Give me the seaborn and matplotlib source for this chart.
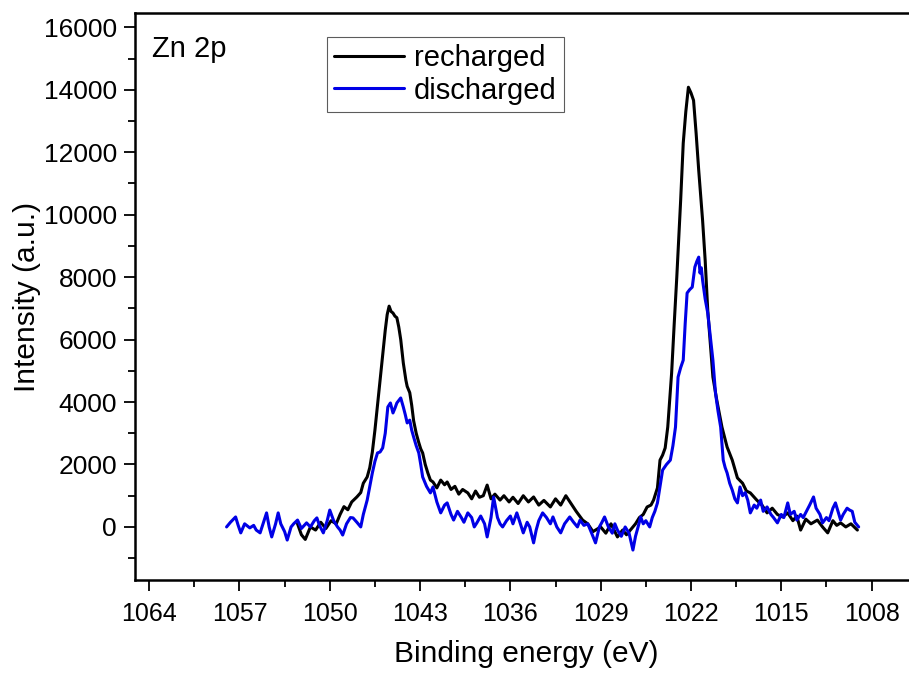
import numpy as np
import pandas as pd
import matplotlib
matplotlib.use("Agg")
import matplotlib.pyplot as plt
import seaborn as sns

# Zn 2p XPS spectra
recharged_be = [
    1052.5, 1052.2, 1051.9, 1051.5, 1051.1, 1050.7, 1050.3, 1049.9, 1049.5, 1049.2,
    1048.9, 1048.6, 1048.3, 1047.9, 1047.6, 1047.4, 1047.1, 1046.9, 1046.7, 1046.5,
    1046.3, 1046.1, 1045.9, 1045.7, 1045.55, 1045.4, 1045.25, 1045.1, 1044.95, 1044.8,
    1044.65, 1044.5, 1044.3, 1044.1, 1044.0, 1043.8, 1043.65, 1043.5, 1043.3, 1043.1,
    1042.95, 1042.8, 1042.6, 1042.4, 1042.2, 1042.0, 1041.7, 1041.4, 1041.1, 1040.9,
    1040.6, 1040.3, 1040.0, 1039.7, 1039.3, 1039.0, 1038.7, 1038.4, 1038.1, 1037.8,
    1037.5, 1037.2, 1036.8, 1036.5, 1036.1, 1035.8, 1035.4, 1035.0, 1034.6, 1034.2,
    1033.8, 1033.4, 1032.9, 1032.5, 1032.1, 1031.7, 1031.3, 1030.9, 1030.4, 1030.0,
    1029.6, 1029.0, 1028.6, 1028.2, 1027.7, 1027.3, 1027.0, 1026.7, 1026.3, 1026.0,
    1025.7, 1025.4, 1025.1, 1024.9, 1024.6, 1024.4, 1024.2, 1024.0, 1023.8, 1023.5,
    1023.3, 1023.1, 1022.8, 1022.6, 1022.4, 1022.2, 1022.0, 1021.8, 1021.6, 1021.4,
    1021.1, 1020.9, 1020.7, 1020.4, 1020.3, 1020.0, 1019.6, 1019.2, 1018.8, 1018.4,
    1018.0, 1017.7, 1017.4, 1016.9, 1016.5, 1016.1, 1015.7, 1015.3, 1014.9, 1014.5,
    1014.1, 1013.8, 1013.5, 1013.1, 1012.7, 1012.2, 1011.8, 1011.4, 1011.0, 1010.7,
    1010.4, 1010.0, 1009.6, 1009.1,
]
recharged_int = [
    100, -250, -400, 0, -100, 150, -50, 200, 100, 400,
    650, 550, 800, 960, 1100, 1400, 1600, 1900, 2400, 3100,
    3900, 4700, 5500, 6300, 6800, 7070, 6900, 6850, 6750, 6700,
    6400, 6000, 5250, 4700, 4500, 4300, 3900, 3400, 3000, 2700,
    2500, 2370, 2000, 1730, 1500, 1440, 1250, 1500, 1350, 1440,
    1200, 1300, 1050, 1200, 1090, 900, 1150, 950, 1000, 1340,
    900, 1050, 860, 1000, 800, 950, 750, 1000, 800, 960,
    700, 850, 640, 900, 700, 1000, 750, 500, 220, 100,
    -150, 0, -200, 100, -320, -100, -250, -100, 100, 300,
    400, 640, 700, 860, 1250, 2140, 2300, 2530, 3200, 4930,
    6500, 8000, 10460, 12290, 13300, 14080, 13900, 13660, 12600, 11420,
    9820, 8540, 6940, 5340, 4800, 4060, 3200, 2560, 2140, 1570,
    1400, 1150, 1090, 860, 700, 450, 600, 400, 320, 450,
    200, 350, -100, 250, 100, 220, 0, -190, 200, 50,
    130, 0, 100, -100,
]

discharged_be = [
    1058.0, 1057.7, 1057.3, 1057.1, 1056.9, 1056.6, 1056.2, 1055.9, 1055.7, 1055.4,
    1055.1, 1054.9, 1054.7, 1054.5, 1054.2, 1054.0, 1053.8, 1053.5, 1053.3, 1053.0,
    1052.8, 1052.5, 1052.2, 1051.8, 1051.5, 1051.2, 1051.0, 1050.8, 1050.5, 1050.2,
    1050.0, 1049.7, 1049.4, 1049.2, 1049.0, 1048.7, 1048.4, 1048.2, 1047.9, 1047.6,
    1047.4, 1047.1, 1046.9, 1046.7, 1046.5, 1046.3, 1046.1, 1045.9, 1045.7, 1045.5,
    1045.3, 1045.1, 1044.95, 1044.8, 1044.65, 1044.5, 1044.3, 1044.15, 1044.0, 1043.8,
    1043.65, 1043.5, 1043.3, 1043.1, 1042.95, 1042.8, 1042.5, 1042.2, 1042.0, 1041.7,
    1041.4, 1041.1, 1040.9, 1040.6, 1040.4, 1040.1, 1039.8, 1039.6, 1039.3, 1039.0,
    1038.8, 1038.6, 1038.3, 1038.0, 1037.8, 1037.5, 1037.3, 1037.0, 1036.8, 1036.6,
    1036.3, 1036.0, 1035.8, 1035.5, 1035.3, 1035.0, 1034.7, 1034.5, 1034.2, 1034.0,
    1033.8, 1033.5, 1033.2, 1032.9, 1032.7, 1032.4, 1032.1, 1031.8, 1031.4, 1031.1,
    1030.8, 1030.6, 1030.3, 1030.0, 1029.7, 1029.4, 1029.1, 1028.9, 1028.7, 1028.4,
    1028.1, 1027.9, 1027.7, 1027.4, 1027.1, 1026.8, 1026.5, 1026.3, 1026.1, 1025.9,
    1025.7, 1025.5, 1025.2, 1025.0, 1024.8, 1024.6, 1024.4, 1024.2, 1023.9, 1023.6,
    1023.4, 1023.2, 1023.0, 1022.8, 1022.6, 1022.45, 1022.3, 1022.1, 1021.9, 1021.8,
    1021.7, 1021.55, 1021.4, 1021.3, 1021.2, 1021.1, 1020.9, 1020.7, 1020.5, 1020.3,
    1020.1, 1019.9, 1019.7, 1019.5, 1019.35, 1019.2, 1019.0, 1018.8, 1018.6, 1018.4,
    1018.2, 1018.0, 1017.8, 1017.6, 1017.4, 1017.1, 1016.9, 1016.6, 1016.4, 1016.1,
    1015.8, 1015.6, 1015.3, 1015.0, 1014.8, 1014.5, 1014.3, 1014.0, 1013.8, 1013.5,
    1013.3, 1013.0, 1012.8, 1012.5, 1012.3, 1012.0, 1011.8, 1011.5, 1011.3, 1011.0,
    1010.8, 1010.6, 1010.4, 1010.2, 1009.9, 1009.7, 1009.5, 1009.3, 1009.0,
]
discharged_int = [
    0, 150, 320, 50, -190, 100, -30, 50, -100, -190,
    200, 450, 0, -320, 100, 450, 100, -150, -420, 0,
    100, 220, -50, 130, 0, 200, 290, 50, -190, 200,
    540, 200, 0, -100, -260, 100, 300, 290, 150, 0,
    400, 860, 1300, 1730, 2100, 2370, 2400, 2530, 3000, 3840,
    3970, 3650, 3800, 3970, 4050, 4130, 3840, 3600, 3330, 3420,
    3100, 2880, 2600, 2370, 2000, 1600, 1300, 1090, 1280, 800,
    450, 700, 770, 400, 220, 500, 300, 150, 450, 300,
    0, 130, 350, 100, -320, 300, 960, 300, 100, 0,
    200, 350, 100, 450, 200, -190, 150, 0, -510, -100,
    200, 450, 300, 100, 320, 0, -190, 100, 320, 150,
    0, 220, 50, 100, -200, -510, 0, 150, 320, 0,
    -200, 100, -100, -300, 0, -200, -740, -300, 0, 320,
    100, 200, 0, 300, 500, 770, 1300, 1820, 2000, 2140,
    2600, 3200, 4800, 5100, 5340, 6500, 7490, 7600, 7680, 8000,
    8320, 8500, 8640, 8130, 8300, 7900, 7300, 6850, 6080, 5340,
    4290, 3700, 3200, 2140, 1900, 1730, 1400, 1180, 900, 770,
    1280, 1000, 1100, 860, 450, 700, 600, 860, 500, 640,
    400, 300, 130, 400, 300, 770, 400, 500, 220, 400,
    300, 540, 700, 960, 600, 400, 130, 300, 200, 600,
    770, 500, 220, 400, 600, 540, 500, 150, 0,
]

x_ticks = [1064, 1057, 1050, 1043, 1036, 1029, 1022, 1015, 1008]

sns.set_style("ticks")
plt.rcParams["font.family"] = ["Liberation Sans", "DejaVu Sans"]
plt.rcParams["text.color"] = "black"
plt.rcParams["axes.labelcolor"] = "black"
plt.rcParams["xtick.color"] = "black"
plt.rcParams["ytick.color"] = "black"

fig = plt.figure(figsize=(9.09, 6.78), dpi=100)
# right edge of the frame falls just outside the picture, as in the original
ax = fig.add_axes([0.1485, 0.1445, 0.86, 0.836])

sns.lineplot(x=recharged_be, y=recharged_int, ax=ax, color="black",
             linewidth=2.2, label="recharged", sort=False)
sns.lineplot(x=discharged_be, y=discharged_int, ax=ax, color="#0000e6",
             linewidth=2.2, label="discharged", sort=False)

ax.set_xlim(1065.1, 1004.6)
ax.set_ylim(-1700, 16450)
ax.set_xticks(x_ticks)
ax.set_xticks([t - 3.5 for t in x_ticks], minor=True)
ax.set_yticks(range(0, 16001, 2000))
ax.set_yticks(range(-1000, 16001, 1000), minor=True)

ax.tick_params(axis="both", which="major", direction="out", length=8, width=1.3,
               color="black", labelcolor="black")
ax.tick_params(axis="x", which="major", labelsize=18, pad=8)
ax.tick_params(axis="y", which="major", labelsize=19, pad=5)
ax.tick_params(axis="both", which="minor", direction="out", length=5, width=1.3,
               color="black")
for s in ax.spines.values():
    s.set_linewidth(1.8)
    s.set_color("black")

ax.set_xlabel("Binding energy (eV)", fontsize=21.5, labelpad=10)
ax.set_ylabel("Intensity (a.u.)", fontsize=21.5, labelpad=2)

ax.text(0.022, 0.962, "Zn 2p", transform=ax.transAxes, fontsize=21,
        ha="left", va="top")

leg = ax.legend(loc="upper left", bbox_to_anchor=(0.245, 0.958), fontsize=21,
                frameon=True, fancybox=False, edgecolor="#333333",
                handlelength=2.4, handletextpad=0.35, borderpad=0.25,
                labelspacing=0.15, borderaxespad=0)
leg.get_frame().set_linewidth(0.8)

fig.savefig("out.png", dpi=100)
